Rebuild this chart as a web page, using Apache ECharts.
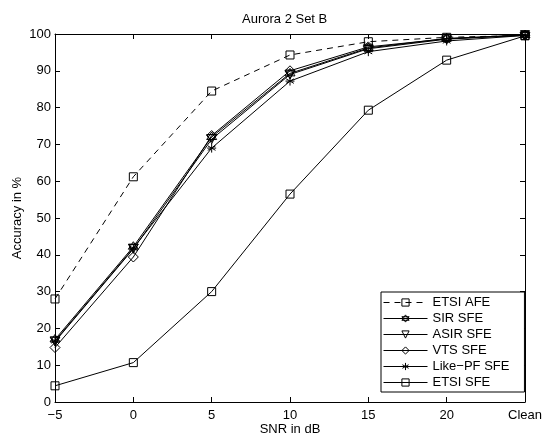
<!DOCTYPE html>
<html>
<head>
<meta charset="utf-8">
<script src="https://cdn.jsdelivr.net/npm/echarts@6/dist/echarts.min.js"></script>
<style>
  html, body { margin: 0; padding: 0; background: #fff; }
  #chart { width: 542px; height: 435px; }
</style>
</head>
<body>
<div id="chart"></div>
<script>
const snrLabels = ["\u22125", "0", "5", "10", "15", "20", "Clean"];
const etsiAfe = [28, 61.2, 84.5, 94.3, 97.9, 99.1, 99.6];
const sirSfe = [17, 42.2, 72, 89.3, 96.2, 98.8, 99.7];
const asirSfe = [16.4, 41.6, 71.4, 89, 96, 98.6, 99.7];
const vtsSfe = [14.8, 39.4, 72.4, 90, 96.5, 98.7, 99.7];
const likePfSfe = [16.6, 41.8, 69, 87.2, 95.2, 98.1, 99.6];
const etsiSfe = [4.4, 10.7, 30, 56.5, 79.3, 92.9, 99.5];
const yTicks = [0, 100, 10];

const sym = {
  square: "path://M-5,-5L5,-5L5,5L-5,5Z",
  hexagram: "path://M0,-10L8.66,5L-8.66,5Z M0,10L8.66,-5L-8.66,-5Z",
  downTri: "path://M-5,-4.3L5,-4.3L0,4.3Z",
  diamond: "path://M0,-6L5,0L0,6L-5,0Z",
  asterisk: "path://M0,-5L0,5M-4.3,-2.5L4.3,2.5M-4.3,2.5L4.3,-2.5M-5,0L5,0"
};

function line(name, data, symbol, size, dashed) {
  return {
    name, type: "line", data, symbol, symbolSize: size,
    showAllSymbol: true,
    lineStyle: { color: "#000", width: 1, type: dashed ? [6, 5] : "solid" },
    itemStyle: { color: "rgba(0,0,0,0)", borderColor: "#000", borderWidth: 1 },
    emphasis: { disabled: true },
    animation: false
  };
}

const chart = echarts.init(document.getElementById("chart"));
const font = "Liberation Sans";
const axisCommon = {
  axisLine: { show: true, onZero: false, lineStyle: { color: "#000", width: 1 } },
  axisTick: { show: true, inside: true, length: 5, lineStyle: { color: "#000" } },
  splitLine: { show: false }
};
chart.setOption({
  backgroundColor: "#fff",
  textStyle: { fontFamily: font, color: "#000" },
  title: {
    text: "Aurora 2 Set B", left: 237, top: 8,
    textStyle: { fontFamily: font, fontSize: 13, fontWeight: "normal", color: "#000" }
  },
  grid: { left: 55, right: 17, top: 34, bottom: 33, outerBoundsMode: "none", containLabel: false },
  legend: {
    orient: "vertical", left: 381, top: 292,
    backgroundColor: "#fff", borderColor: "#000", borderWidth: 1,
    padding: [4, 15, 3, 2], itemWidth: 44, itemHeight: 9, itemGap: 3,
    lineStyle: { width: 1 },
    itemStyle: { borderWidth: 1, borderColor: "#000", color: "rgba(0,0,0,0)" },
    textStyle: { fontFamily: font, fontSize: 13, color: "#000" }
  },
  xAxis: [
    Object.assign({
      type: "category", data: snrLabels, boundaryGap: false, position: "bottom",
      name: "SNR in dB", nameLocation: "middle", nameGap: 21, nameMoveOverlap: false,
      nameTextStyle: { fontFamily: font, fontSize: 13, color: "#000" },
      axisLabel: { color: "#000", fontSize: 13, fontFamily: font, margin: 7 }
    }, axisCommon),
    Object.assign({
      type: "category", data: snrLabels, boundaryGap: false, position: "top",
      axisLabel: { show: false }
    }, axisCommon)
  ],
  yAxis: [
    Object.assign({
      type: "value", min: yTicks[0], max: yTicks[1], interval: yTicks[2],
      name: "Accuracy in %", nameLocation: "middle", nameGap: 31, nameMoveOverlap: false,
      nameTextStyle: { fontFamily: font, fontSize: 13, color: "#000" },
      axisLabel: { color: "#000", fontSize: 13, fontFamily: font, margin: 4 }
    }, axisCommon),
    Object.assign({
      type: "value", min: yTicks[0], max: yTicks[1], interval: yTicks[2],
      position: "right", axisLabel: { show: false }
    }, axisCommon)
  ],
  series: [
    line("ETSI AFE", etsiAfe, sym.square, 8, true),
    line("SIR SFE", sirSfe, sym.hexagram, 10, false),
    line("ASIR SFE", asirSfe, sym.downTri, 9, false),
    line("VTS SFE", vtsSfe, sym.diamond, 10, false),
    line("Like\u2212PF SFE", likePfSfe, sym.asterisk, 9, false),
    line("ETSI SFE", etsiSfe, sym.square, 8, false)
  ]
});
</script>
</body>
</html>
